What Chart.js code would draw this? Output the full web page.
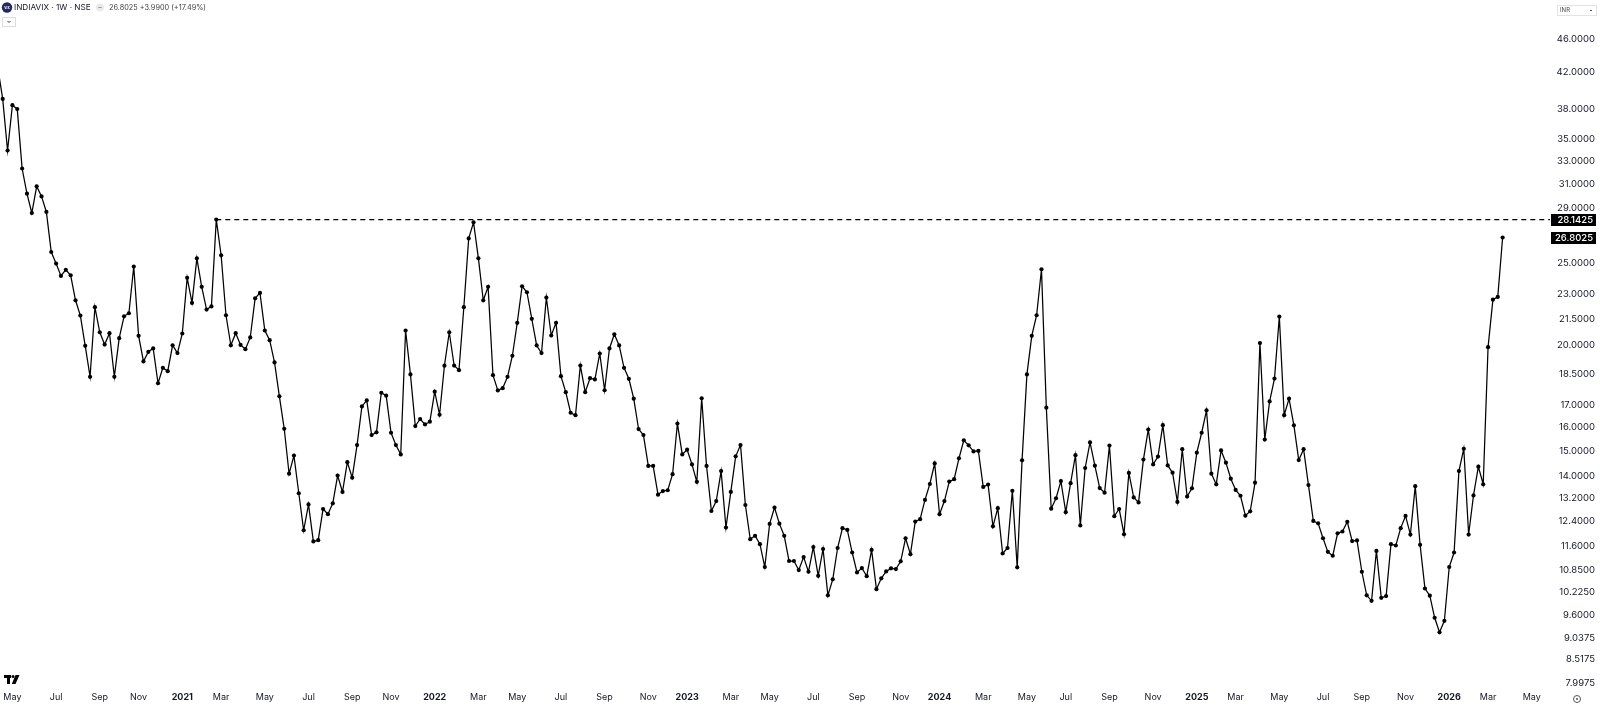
<!DOCTYPE html>
<html>
<head>
<meta charset="utf-8">
<title>INDIAVIX 1W</title>
<script src="https://cdn.jsdelivr.net/npm/chart.js@4.4.1/dist/chart.umd.min.js"></script>
<style>
  html, body { margin: 0; padding: 0; background: #ffffff; }
  #wrap { width: 1600px; height: 708px; position: relative; }
</style>
</head>
<body>
<div id="wrap"><canvas id="vixChart" width="1600" height="708"></canvas></div>
<script>
// Dados semanais do India VIX (fechamento), primeira semana = 13/04/2020
const startWeek = Date.UTC(2020, 3, 13);
const vix = [
  42.45, 39.06, 33.95, 38.40, 37.99, 32.33, 30.19, 28.65, 30.80, 29.97,
  28.73, 25.77, 24.97, 24.15, 24.55, 24.19, 22.60, 21.68, 19.97, 18.36,
  22.18, 20.72, 20.04, 20.67, 18.36, 20.39, 21.64, 21.82, 24.77, 20.52,
  19.14, 19.65, 19.83, 18.04, 18.81, 18.64, 20.00, 19.58, 20.65, 24.02,
  22.44, 25.33, 23.44, 22.04, 22.23, 28.1425, 25.54, 21.70, 20.00, 20.67,
  20.02, 19.79, 20.43, 22.72, 23.06, 20.82, 20.28, 19.09, 17.41, 15.94,
  14.11, 14.82, 13.38, 12.10, 12.98, 11.74, 11.78, 12.82, 12.64, 13.02,
  14.04, 13.43, 14.56, 13.96, 15.25, 16.94, 17.22, 15.67, 15.79, 17.58,
  17.44, 15.77, 15.25, 14.87, 20.82, 18.48, 16.06, 16.37, 16.13, 16.25,
  17.63, 16.56, 18.92, 20.72, 18.93, 18.69, 22.18, 26.74, 27.93, 25.33,
  22.60, 23.44, 18.44, 17.69, 17.80, 18.36, 19.44, 21.26, 23.48, 23.10,
  21.49, 19.99, 19.58, 22.77, 20.54, 21.26, 18.39, 17.61, 16.65, 16.54,
  18.93, 17.61, 18.29, 18.23, 19.56, 17.70, 19.83, 20.61, 19.99, 18.81,
  18.26, 17.30, 15.93, 15.67, 14.41, 14.41, 13.33, 13.46, 13.49, 14.09,
  16.17, 14.87, 15.06, 14.47, 13.80, 17.32, 14.41, 12.75, 13.10, 14.21,
  12.19, 13.43, 14.79, 15.25, 12.96, 11.81, 11.92, 11.65, 10.95, 12.31,
  12.87, 12.32, 11.92, 11.13, 11.13, 10.86, 11.25, 10.81, 11.56, 10.69,
  11.50, 10.14, 10.59, 11.53, 12.17, 12.11, 11.39, 10.79, 10.92, 10.68,
  11.47, 10.31, 10.62, 10.82, 10.91, 10.89, 11.12, 11.84, 11.34, 12.39,
  12.47, 13.14, 13.72, 14.51, 12.64, 13.10, 13.81, 13.90, 14.71, 15.45,
  15.24, 14.99, 15.01, 13.61, 13.70, 12.23, 12.85, 11.36, 11.53, 13.47,
  10.94, 14.63, 18.48, 20.52, 21.70, 24.59, 16.88, 12.83, 13.20, 13.83,
  12.71, 13.75, 14.84, 12.26, 14.33, 15.36, 14.42, 13.57, 13.40, 15.23,
  12.57, 12.82, 11.97, 14.14, 13.23, 13.05, 14.66, 15.91, 14.47, 14.78,
  16.10, 14.43, 14.15, 13.07, 15.08, 13.26, 13.56, 14.94, 15.77, 16.76,
  14.11, 13.71, 15.03, 14.54, 13.92, 13.50, 13.29, 12.59, 12.74, 13.77,
  20.12, 15.48, 17.17, 18.27, 21.62, 16.54, 17.30, 16.09, 14.64, 15.08,
  13.68, 12.41, 12.33, 11.84, 11.41, 11.29, 12.00, 12.06, 12.38, 11.75,
  11.77, 10.81, 10.14, 9.99, 11.44, 10.07, 10.12, 11.65, 11.61, 12.17,
  12.58, 11.96, 13.64, 11.63, 10.33, 10.13, 9.54, 9.17, 9.46, 10.95,
  11.39, 14.21, 15.10, 11.96, 13.30, 14.38, 13.71, 19.90, 22.64, 22.81,
  26.8025
];

// Escala de preços (rótulos à direita)
const priceTicks = [46, 42, 38, 35, 33, 31, 29, 25, 23, 21.5, 20, 18.5, 17, 16, 15,
  14, 13.2, 12.4, 11.6, 10.85, 10.225, 9.6, 9.0375, 8.5175, 7.9975];
const monthNames = ['Jan', 'Feb', 'Mar', 'Apr', 'May', 'Jun', 'Jul', 'Aug', 'Sep', 'Oct', 'Nov', 'Dec'];

// Linha tracejada da máxima de fev/2021
const resistance = 28.1425;
const resistanceFrom = 45;

// Cabeçalho
const symbolTitle = 'INDIAVIX · 1W · NSE';
const quoteText = '26.8025 +3.9900 (+17.49%)';

const FONT = 'Inter, "Noto Sans", sans-serif';
const TEXT = '#131722';

// Janela visível (em semanas)
const xMin = 0.444;
const xMax = 319.76;

function weekDate(i) {
  return new Date(startWeek + i * 7 * 86400000);
}

// Marcas do eixo de tempo: primeira semana de cada mês ímpar
const xTicks = [];
for (let i = 1; i <= Math.floor(xMax); i++) {
  const d = weekDate(i);
  const p = weekDate(i - 1);
  if (d.getUTCMonth() !== p.getUTCMonth() && d.getUTCMonth() % 2 === 0) xTicks.push(i);
}

function timeLabel(i) {
  const d = weekDate(i);
  return d.getUTCMonth() === 0 ? String(d.getUTCFullYear()) : monthNames[d.getUTCMonth()];
}

function isYearTick(i) {
  return weekDate(Math.round(i)).getUTCMonth() === 0;
}

/**
 * Plugin com os elementos do TradingView (cabeçalho, caixas de preço, logo)
 */
const tvDecor = {
  id: 'tvDecor',
  afterDraw(chart) {
    const ctx = chart.ctx;
    const y = chart.scales.y;
    ctx.save();

    // Caixas de preço no eixo direito
    [resistance, vix[vix.length - 1]].forEach(v => {
      const py = Math.round(y.getPixelForValue(v));
      ctx.fillStyle = '#000000';
      ctx.fillRect(1551, py - 6, 45, 12);
      ctx.fillStyle = '#ffffff';
      ctx.font = '500 9.5px ' + FONT;
      ctx.textAlign = 'right';
      ctx.textBaseline = 'middle';
      ctx.fillText(v.toFixed(4), 1593, py + 0.5);
    });

    // Cabeçalho
    ctx.fillStyle = '#1f2b63';
    ctx.beginPath();
    ctx.arc(7, 7.5, 5.2, 0, Math.PI * 2);
    ctx.fill();
    ctx.fillStyle = '#ffffff';
    ctx.font = 'bold 3px ' + FONT;
    ctx.textAlign = 'center';
    ctx.textBaseline = 'middle';
    ctx.fillText('VIX', 7, 7.7);

    ctx.fillStyle = TEXT;
    ctx.font = '8.2px ' + FONT;
    ctx.textAlign = 'left';
    ctx.fillText(symbolTitle, 14, 8);

    ctx.fillStyle = '#ebebeb';
    ctx.beginPath();
    ctx.arc(100, 7.5, 4, 0, Math.PI * 2);
    ctx.fill();
    ctx.fillStyle = '#9a9a9a';
    ctx.fillRect(98.3, 7, 3.4, 1);

    ctx.fillStyle = '#3c3c3c';
    ctx.font = '7.3px ' + FONT;
    ctx.fillText(quoteText, 109, 8);

    // Botão de recolher
    ctx.strokeStyle = '#dddddd';
    ctx.lineWidth = 1;
    ctx.strokeRect(2.5, 17.5, 13, 9);
    ctx.strokeStyle = '#333333';
    ctx.beginPath();
    ctx.moveTo(7.5, 21);
    ctx.lineTo(9, 22.5);
    ctx.lineTo(10.5, 21);
    ctx.stroke();

    // Caixa INR
    ctx.strokeStyle = '#e3e3e3';
    ctx.strokeRect(1557.5, 5.5, 39, 10);
    ctx.fillStyle = '#444444';
    ctx.font = '6px ' + FONT;
    ctx.fillText('INR', 1560, 10.5);
    ctx.strokeStyle = '#555555';
    ctx.beginPath();
    ctx.moveTo(1590, 10);
    ctx.lineTo(1591, 11);
    ctx.lineTo(1592, 10);
    ctx.stroke();

    // Logo TV
    ctx.fillStyle = '#000000';
    ctx.fillRect(4, 675, 7, 3);
    ctx.fillRect(7, 675, 3, 9);
    ctx.beginPath();
    ctx.arc(13, 676.5, 1.5, 0, Math.PI * 2);
    ctx.fill();
    ctx.beginPath();
    ctx.moveTo(15.5, 675);
    ctx.lineTo(19.5, 675);
    ctx.lineTo(15.5, 684);
    ctx.lineTo(11.8, 684);
    ctx.closePath();
    ctx.fill();

    // Ícone de configuração
    ctx.strokeStyle = '#555555';
    ctx.beginPath();
    ctx.arc(1577, 699, 3.5, 0, Math.PI * 2);
    ctx.stroke();
    ctx.fillStyle = '#555555';
    ctx.beginPath();
    ctx.arc(1577, 699, 1, 0, Math.PI * 2);
    ctx.fill();

    ctx.restore();
  }
};

const ctx = document.getElementById('vixChart');

new Chart(ctx, {
  type: 'line',
  data: {
    datasets: [{
      label: 'INDIAVIX',
      data: vix.map((v, i) => ({ x: i, y: v })),
      borderColor: '#000000',
      borderWidth: 1.25,
      pointRadius: 2.1,
      pointBorderWidth: 0,
      pointBackgroundColor: '#000000',
      tension: 0
    },
    {
      label: 'Máxima 2021',
      data: [{ x: resistanceFrom, y: resistance }, { x: xMax, y: resistance }],
      borderColor: '#000000',
      borderWidth: 1.3,
      borderDash: [5, 4],
      pointRadius: 0
    }]
  },
  options: {
    responsive: false,
    animation: false,
    layout: { padding: { left: 0, top: 0, bottom: 0, right: 5 }, autoPadding: false },
    plugins: {
      legend: { display: false },
      tooltip: { enabled: false }
    },
    scales: {
      x: {
        type: 'linear',
        position: 'bottom',
        min: xMin,
        max: xMax,
        grid: { display: false, drawTicks: false },
        border: { display: false },
        afterBuildTicks: axis => { axis.ticks = xTicks.map(v => ({ value: v })); },
        afterFit: axis => {
          axis.height = 18;
          axis.paddingLeft = 0;
          axis.paddingRight = 0;
        },
        ticks: {
          autoSkip: false,
          maxRotation: 0,
          padding: 2,
          color: TEXT,
          font: c => ({ family: FONT, size: 9, weight: c.tick && isYearTick(c.tick.value) ? 'bold' : 'normal' }),
          callback: value => timeLabel(Math.round(value))
        }
      },
      y: {
        type: 'logarithmic',
        position: 'right',
        min: 7.84,
        max: 51.10,
        grid: { display: false, drawTicks: false },
        border: { display: false },
        afterBuildTicks: axis => { axis.ticks = priceTicks.map(v => ({ value: v })); },
        afterFit: axis => {
          axis.width = 45;
          axis.paddingTop = 0;
          axis.paddingBottom = 0;
        },
        ticks: {
          autoSkip: false,
          crossAlign: 'far',
          padding: 0,
          color: TEXT,
          font: { family: FONT, size: 9.5 },
          callback: value => Number(value).toFixed(4)
        }
      }
    }
  },
  plugins: [tvDecor]
});
</script>
</body>
</html>
